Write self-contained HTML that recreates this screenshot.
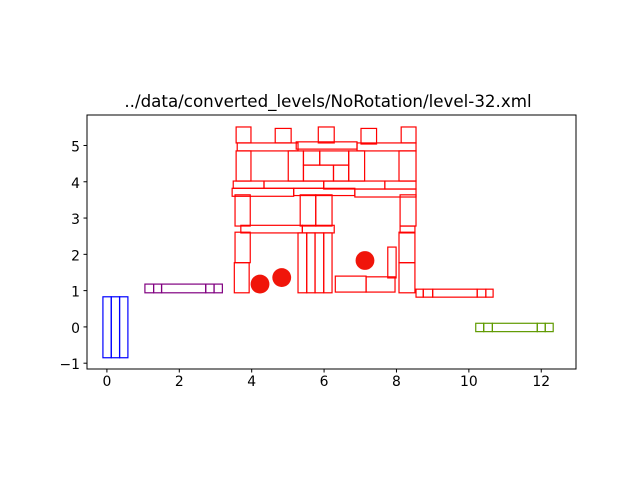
<!DOCTYPE html>
<html><head><meta charset="utf-8"><style>
body{margin:0;background:#fff;}
svg{display:block;font-family:"DejaVu Sans","Liberation Sans",sans-serif;}
</style></head><body>
<svg id="chart" width="640" height="480" viewBox="0 0 640 480" xmlns="http://www.w3.org/2000/svg">
<rect x="0" y="0" width="640" height="480" fill="#fff"/>
<text x="328" y="107" text-anchor="middle" font-size="16.7" fill="#000">../data/converted_levels/NoRotation/level-32.xml</text>
<g id="marks"></g>
<g id="axes"></g>
</svg>
<script>
const xTicks = [0, 2, 4, 6, 8, 10, 12];
const yTicks = [-1, 0, 1, 2, 3, 4, 5];
const blueRects = [[-0.11,-0.85,0.12,0.83],[0.12,-0.85,0.35,0.83],[0.35,-0.85,0.58,0.83]];
const purpleRects = [[1.05,0.94,1.29,1.18],[1.29,0.94,1.51,1.18],[1.51,0.94,2.73,1.18],[2.73,0.94,2.96,1.18],[2.96,0.94,3.19,1.18]];
const greenRects = [[10.19,-0.13,10.41,0.10],[10.41,-0.13,10.65,0.10],[10.65,-0.13,11.89,0.10],[11.89,-0.13,12.11,0.10],[12.11,-0.13,12.33,0.10]];
const redRects = [
[3.57,5.07,3.98,5.51],[4.65,5.07,5.09,5.47],[5.84,5.07,6.28,5.51],[7.02,5.04,7.45,5.47],[8.13,5.07,8.54,5.51],
[3.60,4.85,5.28,5.07],[5.23,4.90,6.91,5.10],[6.91,4.85,8.54,5.07],
[3.57,4.02,3.98,4.85],[5.01,4.02,5.43,4.85],[5.43,4.46,5.88,4.85],[5.88,4.46,6.68,4.85],[5.43,4.02,6.26,4.46],[6.26,4.02,6.68,4.46],[6.68,4.02,7.12,4.85],[8.07,4.02,8.54,4.85],
[3.49,3.82,4.34,4.02],[4.34,3.82,5.99,4.02],[5.99,3.80,7.68,4.02],[7.68,3.80,8.54,4.02],
[3.46,3.60,5.16,3.82],[5.16,3.62,6.85,3.82],[6.85,3.58,8.54,3.80],
[3.54,2.78,3.96,3.64],[5.34,2.78,5.77,3.64],[5.77,2.78,6.22,3.64],[8.10,2.78,8.54,3.64],
[3.70,2.59,5.40,2.80],[5.40,2.59,6.28,2.80],[8.10,2.59,8.51,2.78],
[3.54,1.77,3.96,2.61],[3.52,0.94,3.93,1.77],
[5.28,0.94,5.52,2.59],[5.52,0.94,5.75,2.59],[5.75,0.94,5.99,2.59],[5.99,0.94,6.22,2.59],
[8.07,1.77,8.51,2.61],[8.07,0.94,8.51,1.77],
[7.76,1.35,7.99,2.20],[6.31,0.96,7.16,1.40],[7.16,0.96,7.96,1.38],
[8.54,0.82,8.74,1.04],[8.74,0.82,9.00,1.04],[9.00,0.82,10.23,1.04],[10.23,0.82,10.47,1.04],[10.47,0.82,10.67,1.04]
];
const circleCenters = [[4.23,1.18],[4.83,1.36],[7.13,1.83]];
const circleRadius = 0.26;

const L=87,R=576,T=115,B=369;
const xmin=-0.55,xmax=12.96,ymin=-1.16,ymax=5.84;
const sx=v=>L+(v-xmin)/(xmax-xmin)*(R-L);
const sy=v=>B-(v-ymin)/(ymax-ymin)*(B-T);
const NS="http://www.w3.org/2000/svg";
const marks=document.getElementById('marks');
const axes=document.getElementById('axes');
function mk(tag,attrs,parent){const e=document.createElementNS(NS,tag);for(const k in attrs)e.setAttribute(k,attrs[k]);parent.appendChild(e);return e;}
function drawRects(list,color,name){
  list.forEach(r=>{
    const e=mk('rect',{x:sx(r[0]),y:sy(r[3]),width:sx(r[2])-sx(r[0]),height:sy(r[1])-sy(r[3]),fill:'none',stroke:color,'stroke-width':1.2},marks);
    
    
  });
}
drawRects(blueRects,'#0000ff','blue-block');
drawRects(purpleRects,'#800080','purple-block');
drawRects(greenRects,'#5f9a00','green-block');
drawRects(redRects,'#ff0000','red-block');
circleCenters.forEach(c=>{
  const e=mk('circle',{cx:sx(c[0]),cy:sy(c[1]),r:(sx(circleRadius)-sx(0)),fill:'#f0150a'},marks);
  
  
});
const frame=mk('rect',{x:L,y:T,width:R-L,height:B-T,fill:'none',stroke:'#000','stroke-width':1},axes);


xTicks.forEach(t=>{
  const x=sx(t);
  const l=mk('line',{x1:x,y1:B,x2:x,y2:B+3.5,stroke:'#000'},axes);
  
  
  const tx=mk('text',{x:x,y:B+17,'text-anchor':'middle','font-size':13.9},axes);
  tx.textContent=t;
  
  
});
yTicks.forEach(t=>{
  const y=sy(t);
  const l=mk('line',{x1:L-3.5,y1:y,x2:L,y2:y,stroke:'#000'},axes);
  
  
  const tx=mk('text',{x:L-7,y:y+6,'text-anchor':'end','font-size':13.9},axes);
  tx.textContent=t<0?'\u22121':t;
  
  
});
</script>
</body></html>
